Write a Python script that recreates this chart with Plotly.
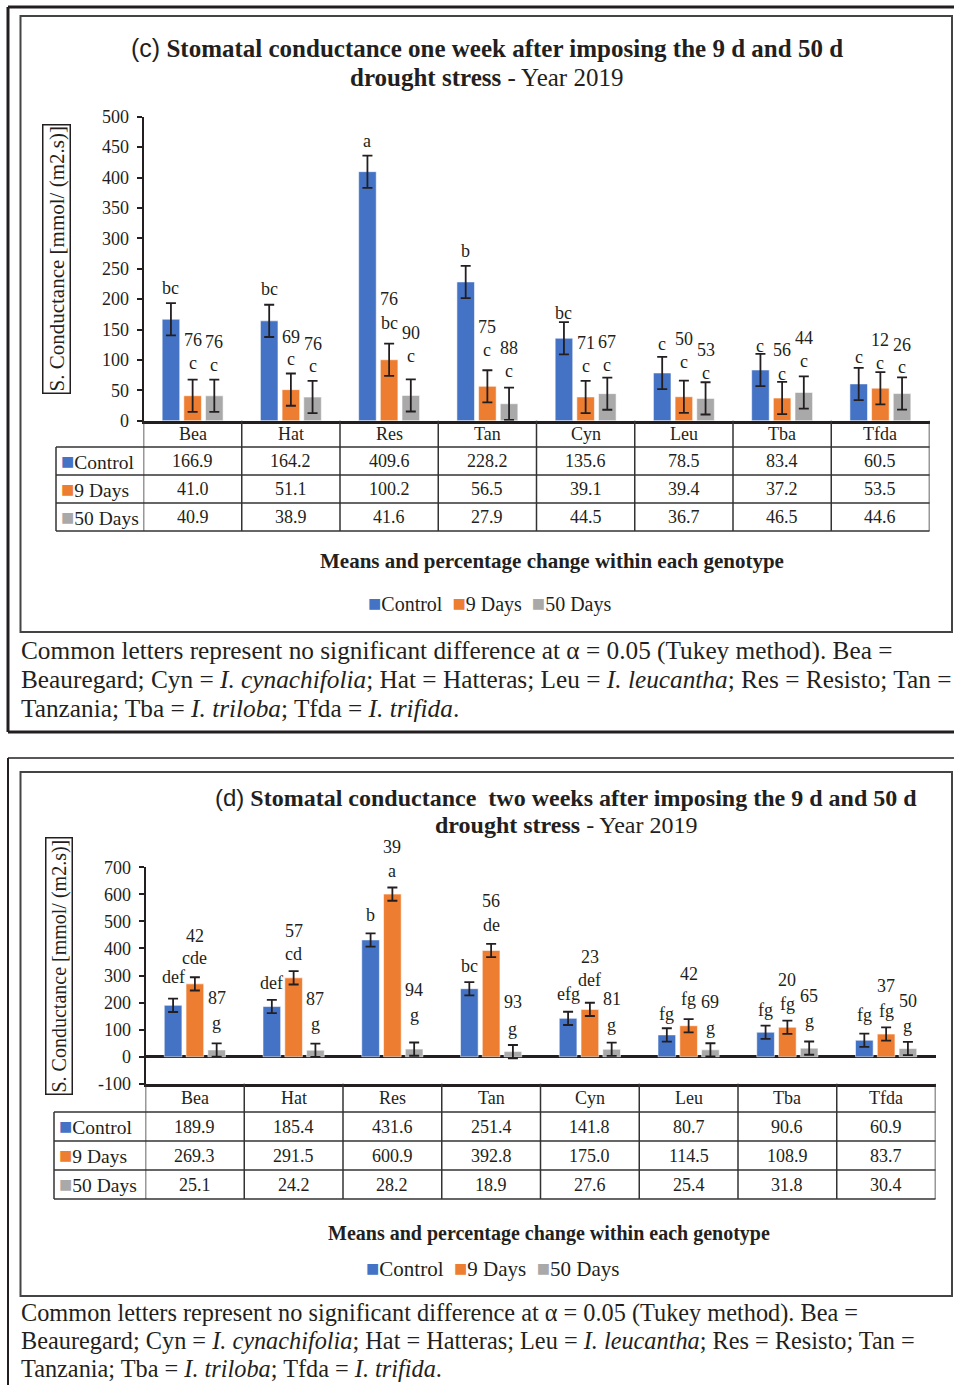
import plotly.graph_objects as go

W, H = 954, 1385

genotypes = ["Bea", "Hat", "Res", "Tan", "Cyn", "Leu", "Tba", "Tfda"]
series_names = ["Control", "9 Days", "50 Days"]

# (c) one week after imposing the drought stress
c_control = [166.9, 164.2, 409.6, 228.2, 135.6, 78.5, 83.4, 60.5]
c_9days = [41.0, 51.1, 100.2, 56.5, 39.1, 39.4, 37.2, 53.5]
c_50days = [40.9, 38.9, 41.6, 27.9, 44.5, 36.7, 46.5, 44.6]
c_se = 26.5
c_letters_control = ["bc", "bc", "a", "b", "bc", "c", "c", "c"]
c_letters_9days = ["c", "c", "bc", "c", "c", "c", "c", "c"]
c_letters_50days = ["c", "c", "c", "c", "c", "c", "c", "c"]
c_pct_9days = [76, 69, 76, 75, 71, 50, 56, 12]
c_pct_50days = [76, 76, 90, 88, 67, 53, 44, 26]

# (d) two weeks after imposing the drought stress
d_control = [189.9, 185.4, 431.6, 251.4, 141.8, 80.7, 90.6, 60.9]
d_9days = [269.3, 291.5, 600.9, 392.8, 175.0, 114.5, 108.9, 83.7]
d_50days = [25.1, 24.2, 28.2, 18.9, 27.6, 25.4, 31.8, 30.4]
d_se = 24.5
d_letters_control = ["def", "def", "b", "bc", "efg", "fg", "fg", "fg"]
d_letters_9days = ["cde", "cd", "a", "de", "def", "fg", "fg", "fg"]
d_letters_50days = ["g", "g", "g", "g", "g", "g", "g", "g"]
d_pct_9days = [42, 57, 39, 56, 23, 42, 20, 37]
d_pct_50days = [87, 87, 94, 93, 81, 69, 65, 50]

c_ticks = [0, 50, 100, 150, 200, 250, 300, 350, 400, 450, 500]
d_ticks = [-100, 0, 100, 200, 300, 400, 500, 600, 700]

colors = ["#4472C4", "#ED7D31", "#A9A9A9"]
SERIF = "Liberation Serif, Times New Roman, serif"
SANS = "Liberation Sans, Arial, sans-serif"
INK = "#231f20"

# vertical nudges (px above the error-bar cap) for the letter and percentage labels
c_letter_shift = [[15, 16, 15, 15, 9, 13, 8, 11],
                  [17, 15, 21, 20, 15, 19, 8, 9],
                  [15, 15, 23, 17, 13, 9, 15, 10]]
c_pct_shift = [None,
               [40, 37, 45, 43, 38, 42, 32, 32],
               [38, 37, 46, 40, 36, 32, 38, 32]]
d_letter_shift = [[22, 17, 18, 16, 18, 14, 16, 19],
                  [19, 17, 16, 19, 23, 20, 17, 16],
                  [20, 20, 27, 16, 18, 15, 21, 16]]
d_pct_shift = [None,
               [41, 40, 40, 43, 46, 45, 41, 41],
               [45, 45, 52, 43, 44, 41, 46, 41]]

CAPTION = [
    "Common letters represent no significant difference at α = 0.05 (Tukey method). Bea =",
    "Beauregard; Cyn = <i>I. cynachifolia</i>; Hat = Hatteras; Leu = <i>I. leucantha</i>; "
    "Res = Resisto; Tan =",
    "Tanzania; Tba = <i>I. triloba</i>; Tfda = <i>I. trifida</i>.",
]


def fx(x):
    return x / W


def fy(y):
    return 1 - y / H


panels = [
    dict(
        tag="(c)",
        title_lines=["<b>Stomatal conductance one week after imposing the 9 d and 50 d</b>",
                     "<b>drought stress</b> - Year 2019"],
        title_x=[487, 486], title_y=[48, 77], title_size=25,
        series=[c_control, c_9days, c_50days], se=c_se,
        letters=[c_letters_control, c_letters_9days, c_letters_50days],
        pcts=[None, c_pct_9days, c_pct_50days],
        letter_shift=c_letter_shift, pct_shift=c_pct_shift,
        x_px=(143.5, 929.5), y_px=(116.7, 420.7), yrange=[0, 500], ticks=c_ticks,
        rows_px=[420.7, 447, 475, 503, 531], table_left=56,
        ytitle_box=(42, 120, 70, 398), ytitle_size=21,
        means_y=561, means_x=552, means_size=21,
        legend_y=603, legend_x=489, legend_size=20,
        caption_y=[650, 679, 708], caption_size=25.3,
    ),
    dict(
        tag="(d)",
        title_lines=["<b>Stomatal conductance  two weeks after imposing the 9 d and 50 d</b>",
                     "<b>drought stress</b> - Year 2019"],
        title_x=[566, 566], title_y=[797, 825], title_size=24,
        series=[d_control, d_9days, d_50days], se=d_se,
        letters=[d_letters_control, d_letters_9days, d_letters_50days],
        pcts=[None, d_pct_9days, d_pct_50days],
        letter_shift=d_letter_shift, pct_shift=d_pct_shift,
        x_px=(145.5, 935.5), y_px=(867.3, 1083.8), yrange=[-100, 700], ticks=d_ticks,
        rows_px=[1083.8, 1112, 1141, 1170, 1199], table_left=54,
        ytitle_box=(45, 836, 72, 1097), ytitle_size=20,
        means_y=1233, means_x=549, means_size=20,
        legend_y=1268, legend_x=492, legend_size=21,
        caption_y=[1313, 1340, 1368], caption_size=24.3,
    ),
]

fig = go.Figure()
annotations = []
shapes = []


def seg(x0, y0, x1, y1, w=1.5, color="#333", xref="paper"):
    shapes.append(dict(type="line", xref=xref, yref="paper",
                       x0=x0, y0=y0, x1=x1, y1=y1,
                       line=dict(width=w, color=color)))


def note(x, y, text, size, xanchor="center", **kw):
    annotations.append(dict(x=x, y=y, xref=kw.pop("xref", "paper"), yref=kw.pop("yref", "paper"),
                            text=text, showarrow=False, xanchor=xanchor,
                            yanchor=kw.pop("yanchor", "middle"),
                            font=dict(family=kw.pop("family", SERIF), size=size, color=INK), **kw))


n = len(genotypes)
bargap = 0.338
slot = (1 - bargap) / 3  # width of one bar slot in category units
SQ = "<span style='color:{};font-size:22px'>■</span>"

for p_i, p in enumerate(panels):
    sfx = "" if p_i == 0 else str(p_i + 1)
    xa, ya = "x" + sfx, "y" + sfx
    for s_i, (name, vals) in enumerate(zip(series_names, p["series"])):
        fig.add_trace(go.Bar(
            x=list(range(n)), y=vals, name=name,
            marker=dict(color=colors[s_i], line=dict(width=1, color="rgba(255,255,255,0.55)")),
            error_y=dict(type="constant", value=p["se"], color=INK, thickness=1.8, width=5),
            xaxis=xa, yaxis=ya, showlegend=False,
        ))
        # significance letters and percentage change above each bar
        for i in range(n):
            xpos = i + (s_i - 1) * slot
            ycap = vals[i] + p["se"]
            note(xpos, ycap, p["letters"][s_i][i], 18, xref=xa, yref=ya,
                 yshift=p["letter_shift"][s_i][i])
            if p["pcts"][s_i] is not None:
                note(xpos, ycap, str(p["pcts"][s_i][i]), 18, xref=xa, yref=ya,
                     yshift=p["pct_shift"][s_i][i])

    xd = [fx(p["x_px"][0]), fx(p["x_px"][1])]
    yd = [fy(p["y_px"][1]), fy(p["y_px"][0])]
    fig.update_layout(**{
        ("xaxis" + sfx): dict(domain=xd, range=[-0.5, n - 0.5], anchor=ya, automargin=False,
                              showticklabels=False, ticks="", showgrid=False,
                              zeroline=False, showline=True, linewidth=2.5, linecolor=INK),
        ("yaxis" + sfx): dict(domain=yd, range=p["yrange"], anchor=xa, automargin=False,
                              tickvals=p["ticks"], ticktext=[str(t) for t in p["ticks"]],
                              showgrid=False, zeroline=p["yrange"][0] < 0,
                              zerolinewidth=2.5, zerolinecolor=INK,
                              showline=True, linewidth=2, linecolor=INK,
                              ticks="outside", ticklen=5, tickwidth=1.5, tickcolor=INK,
                              ticklabelstandoff=4,
                              tickfont=dict(family=SERIF, size=18, color=INK)),
    })

    # data table under the axis
    rows = p["rows_px"]
    right = p["x_px"][1]
    for r in rows[1:]:
        seg(fx(p["table_left"]), fy(r), fx(right), fy(r))
    seg(fx(p["table_left"]), fy(rows[1]), fx(p["table_left"]), fy(rows[-1]))
    for i in range(n + 1):
        seg(i - 0.5, fy(rows[0]), i - 0.5, fy(rows[-1]), xref=xa)
    for i, g in enumerate(genotypes):
        note(i, fy((rows[0] + rows[1]) / 2), g, 18, xref=xa)
    for s_i, (name, vals) in enumerate(zip(series_names, p["series"])):
        yc = fy((rows[s_i + 1] + rows[s_i + 2]) / 2)
        note(fx(p["table_left"] + 3), yc, SQ.format(colors[s_i]) + name, 19.5, xanchor="left")
        for i in range(n):
            note(i, yc, f"{vals[i]:.1f}", 18, xref=xa)

    # title, axis title, table caption, legend and footnote
    for k, line in enumerate(p["title_lines"]):
        txt = line
        if k == 0:
            txt = f"<span style='font-family:{SANS}'>{p['tag']}</span> " + line
        note(fx(p["title_x"][k]), fy(p["title_y"][k]), txt, p["title_size"])
    bx0, by0, bx1, by1 = p["ytitle_box"]
    note(fx((bx0 + bx1) / 2), fy((by0 + by1) / 2), "S. Conductance [mmol/ (m2.s)]",
         p["ytitle_size"], textangle=-90, bordercolor=INK, borderwidth=1.5, borderpad=1)
    note(fx(p["means_x"]), fy(p["means_y"]),
         "<b>Means and percentage change within each genotype</b>", p["means_size"])
    legend_txt = "  ".join(SQ.format(c) + nm for c, nm in zip(colors, series_names))
    note(fx(p["legend_x"]), fy(p["legend_y"]), legend_txt, p["legend_size"])
    for k, line in enumerate(CAPTION):
        note(fx(19), fy(p["caption_y"][k]), line, p["caption_size"], xanchor="left")

# panel frames
seg(fx(8), fy(7), fx(954), fy(7), w=3, color=INK)
seg(fx(8), fy(7), fx(8), fy(732), w=3, color=INK)
seg(fx(8), fy(732), fx(954), fy(732), w=3, color=INK)
shapes.append(dict(type="rect", xref="paper", yref="paper", x0=fx(20.5), y0=fy(632),
                   x1=fx(952), y1=fy(16), line=dict(width=2, color="#444")))
seg(fx(8), fy(758), fx(954), fy(758), w=1.5, color=INK)
seg(fx(8), fy(758), fx(8), fy(1385), w=2, color=INK)
shapes.append(dict(type="rect", xref="paper", yref="paper", x0=fx(20.5), y0=fy(1296),
                   x1=fx(952), y1=fy(772), line=dict(width=2, color="#444")))

fig.update_layout(
    width=W, height=H, margin=dict(l=0, r=0, t=0, b=0, autoexpand=False),
    paper_bgcolor="white", plot_bgcolor="white",
    barmode="group", bargap=bargap, bargroupgap=0.19,
    showlegend=False, annotations=annotations, shapes=shapes,
    font=dict(family=SERIF, color=INK),
)

fig.write_html("out.html")
